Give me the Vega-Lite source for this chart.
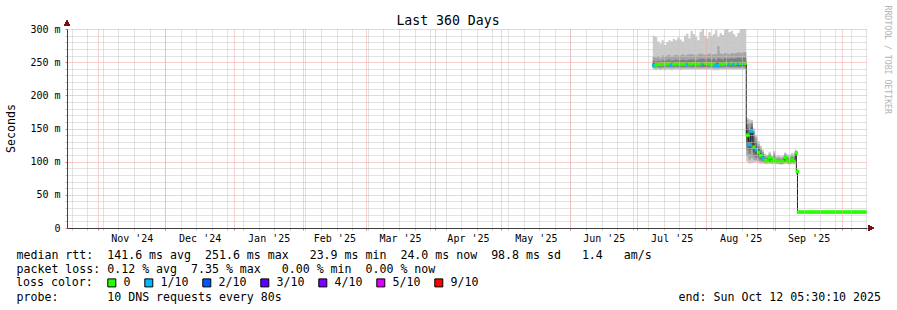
{
  "$schema": "https://vega.github.io/schema/vega-lite/v6.json",
  "width": 800,
  "height": 199,
  "autosize": {"type": "none"},
  "padding": {"left": 67, "top": 29, "right": 30, "bottom": 82},
  "background": "white",
  "title": {"text": "Last 360 Days", "anchor": "middle", "frame": "group", "dx": -19, "dy": 38, "baseline": "alphabetic", "offset": 5, "font": "DejaVu Sans Mono", "fontSize": 13.2, "fontWeight": "normal", "color": "black"},
  "config": {"view": {"stroke": null}, "font": "DejaVu Sans Mono"},
  "data": {"values": [
    {"t":"2025-07-08T00:00","p1":239,"p2":241,"p3":243,"p4":245,"med":245,"p7":249,"p8":252,"p9":258,"p10":290,"loss":"1/10"},
    {"t":"2025-07-09T00:00","p1":238,"p2":241,"p3":243,"p4":244.5,"med":246,"p7":248,"p8":251,"p9":257,"p10":288,"loss":"0"},
    {"t":"2025-07-10T00:00","p1":239,"p2":241,"p3":243,"p4":245,"med":247,"p7":249,"p8":252,"p9":259,"p10":281,"loss":"0"},
    {"t":"2025-07-11T00:00","p1":238,"p2":240,"p3":242.5,"p4":244.5,"med":246.5,"p7":248.5,"p8":251,"p9":256,"p10":278,"loss":"0"},
    {"t":"2025-07-12T00:00","p1":239,"p2":241,"p3":243,"p4":245,"med":247.5,"p7":249.5,"p8":253,"p9":260,"p10":283,"loss":"0"},
    {"t":"2025-07-13T00:00","p1":238,"p2":241,"p3":243,"p4":245,"med":247,"p7":249,"p8":252,"p9":258,"p10":276,"loss":"0"},
    {"t":"2025-07-14T00:00","p1":239,"p2":241,"p3":243.5,"p4":245.5,"med":247.5,"p7":250,"p8":253,"p9":260,"p10":280,"loss":"0"},
    {"t":"2025-07-15T00:00","p1":239,"p2":241,"p3":243,"p4":245,"med":248,"p7":250,"p8":254,"p9":261,"p10":283,"loss":"0"},
    {"t":"2025-07-16T00:00","p1":238,"p2":241,"p3":243,"p4":245,"med":246,"p7":248,"p8":252,"p9":258,"p10":281,"loss":"1/10"},
    {"t":"2025-07-17T00:00","p1":239,"p2":241,"p3":243,"p4":245,"med":247,"p7":249,"p8":253,"p9":260,"p10":285,"loss":"0"},
    {"t":"2025-07-18T00:00","p1":239,"p2":241.5,"p3":243.5,"p4":245.5,"med":248,"p7":250,"p8":254,"p9":261,"p10":283,"loss":"0"},
    {"t":"2025-07-19T00:00","p1":239,"p2":241,"p3":243,"p4":245,"med":247.5,"p7":249.5,"p8":253,"p9":260,"p10":287,"loss":"0"},
    {"t":"2025-07-20T00:00","p1":238,"p2":241,"p3":243,"p4":245,"med":247,"p7":249,"p8":253,"p9":260,"p10":284,"loss":"0"},
    {"t":"2025-07-21T00:00","p1":239,"p2":241,"p3":243,"p4":245,"med":247.5,"p7":250,"p8":254,"p9":262,"p10":281,"loss":"0"},
    {"t":"2025-07-22T00:00","p1":239,"p2":241,"p3":243,"p4":245,"med":247,"p7":249.5,"p8":253,"p9":260,"p10":290,"loss":"0"},
    {"t":"2025-07-23T00:00","p1":239,"p2":241,"p3":243,"p4":245,"med":246.5,"p7":249,"p8":253,"p9":261,"p10":293,"loss":"1/10"},
    {"t":"2025-07-24T00:00","p1":239,"p2":241,"p3":243.5,"p4":245.5,"med":247.5,"p7":250,"p8":254,"p9":262,"p10":286,"loss":"0"},
    {"t":"2025-07-25T00:00","p1":239,"p2":241,"p3":243,"p4":245,"med":247.5,"p7":250,"p8":254,"p9":262,"p10":297,"loss":"0"},
    {"t":"2025-07-26T00:00","p1":239,"p2":241,"p3":243,"p4":245,"med":248,"p7":250,"p8":254,"p9":261,"p10":292,"loss":"0"},
    {"t":"2025-07-27T00:00","p1":239,"p2":241,"p3":243,"p4":245,"med":247,"p7":249.5,"p8":253,"p9":260,"p10":288,"loss":"0"},
    {"t":"2025-07-28T00:00","p1":239,"p2":241,"p3":243.5,"p4":245.5,"med":248,"p7":250,"p8":254,"p9":262,"p10":283,"loss":"0"},
    {"t":"2025-07-29T00:00","p1":239,"p2":241,"p3":243,"p4":245,"med":247.5,"p7":250,"p8":255,"p9":263,"p10":296,"loss":"0"},
    {"t":"2025-07-30T00:00","p1":239,"p2":241,"p3":243,"p4":245,"med":249,"p7":251,"p8":255,"p9":262,"p10":302,"loss":"1/10"},
    {"t":"2025-07-31T00:00","p1":239,"p2":241,"p3":243,"p4":245,"med":248,"p7":250,"p8":254,"p9":261,"p10":290,"loss":"0"},
    {"t":"2025-08-01T00:00","p1":239,"p2":241,"p3":243,"p4":245,"med":247.5,"p7":250,"p8":255,"p9":262,"p10":286,"loss":"0"},
    {"t":"2025-08-02T00:00","p1":239,"p2":241,"p3":243.5,"p4":245.5,"med":248,"p7":250.5,"p8":255,"p9":263,"p10":295,"loss":"0"},
    {"t":"2025-08-03T00:00","p1":239,"p2":241,"p3":243,"p4":245,"med":247,"p7":249.5,"p8":254,"p9":261,"p10":289,"loss":"0"},
    {"t":"2025-08-04T00:00","p1":238,"p2":240.5,"p3":243,"p4":245,"med":247.5,"p7":250,"p8":255,"p9":262,"p10":292,"loss":"0"},
    {"t":"2025-08-05T00:00","p1":238,"p2":240.5,"p3":242.5,"p4":244,"med":245,"p7":248,"p8":253,"p9":262,"p10":298,"loss":"1/10"},
    {"t":"2025-08-06T00:00","p1":238,"p2":240.5,"p3":242.5,"p4":244,"med":245.5,"p7":249,"p8":256,"p9":274,"p10":288,"loss":"1/10"},
    {"t":"2025-08-07T00:00","p1":239,"p2":241,"p3":243,"p4":245,"med":247.5,"p7":250,"p8":255,"p9":263,"p10":294,"loss":"0"},
    {"t":"2025-08-08T00:00","p1":239,"p2":241,"p3":243,"p4":245,"med":247,"p7":249.5,"p8":254,"p9":262,"p10":291,"loss":"0"},
    {"t":"2025-08-09T00:00","p1":239,"p2":241,"p3":243.5,"p4":245.5,"med":248,"p7":250.5,"p8":256,"p9":264,"p10":299,"loss":"0"},
    {"t":"2025-08-10T00:00","p1":239,"p2":241,"p3":243,"p4":245,"med":248,"p7":250.5,"p8":256,"p9":263,"p10":302,"loss":"0"},
    {"t":"2025-08-11T00:00","p1":239,"p2":241,"p3":243,"p4":245,"med":247,"p7":249.5,"p8":255,"p9":262,"p10":295,"loss":"1/10"},
    {"t":"2025-08-12T00:00","p1":239,"p2":241,"p3":243,"p4":245,"med":248.5,"p7":251,"p8":256,"p9":264,"p10":297,"loss":"0"},
    {"t":"2025-08-13T00:00","p1":239,"p2":241,"p3":243,"p4":245,"med":247,"p7":249.5,"p8":255,"p9":263,"p10":292,"loss":"1/10"},
    {"t":"2025-08-14T00:00","p1":239,"p2":241,"p3":243,"p4":245,"med":248,"p7":250.5,"p8":256,"p9":264,"p10":288,"loss":"0"},
    {"t":"2025-08-15T00:00","p1":239,"p2":241,"p3":243,"p4":245,"med":248.5,"p7":251,"p8":257,"p9":265,"p10":294,"loss":"1/10"},
    {"t":"2025-08-16T00:00","p1":239,"p2":241,"p3":243,"p4":245,"med":248,"p7":250.5,"p8":256,"p9":264,"p10":302,"loss":"0"},
    {"t":"2025-08-17T00:00","p1":239,"p2":241,"p3":243,"p4":245,"med":249,"p7":251.5,"p8":257,"p9":265,"p10":300,"loss":"1/10"},
    {"t":"2025-08-18T00:00","p1":239,"p2":241,"p3":243.5,"p4":245.5,"med":248,"p7":251,"p8":257,"p9":265,"p10":302,"loss":"0"},
    {"t":"2025-08-19T00:00","p1":100,"p2":108,"p3":118,"p4":128,"med":140,"p7":150,"p8":156,"p9":162,"p10":166,"loss":"0"},
    {"t":"2025-08-20T00:00","p1":97,"p2":103,"p3":112,"p4":120,"med":126,"p7":136,"p8":148,"p9":158,"p10":164,"loss":"1/10"},
    {"t":"2025-08-21T00:00","p1":98,"p2":106,"p3":118,"p4":132,"med":146,"p7":152,"p8":157,"p9":160,"p10":163,"loss":"1/10"},
    {"t":"2025-08-22T00:00","p1":99,"p2":103,"p3":108,"p4":114,"med":122,"p7":130,"p8":138,"p9":145,"p10":150,"loss":"0"},
    {"t":"2025-08-23T00:00","p1":99,"p2":102,"p3":106,"p4":111,"med":118,"p7":124,"p8":130,"p9":136,"p10":140,"loss":"1/10"},
    {"t":"2025-08-24T00:00","p1":98,"p2":101,"p3":105,"p4":109,"med":114,"p7":119,"p8":123,"p9":127,"p10":131,"loss":"0"},
    {"t":"2025-08-25T00:00","p1":97,"p2":100,"p3":103,"p4":106,"med":109,"p7":113,"p8":117,"p9":121,"p10":124,"loss":"0"},
    {"t":"2025-08-26T00:00","p1":97,"p2":99,"p3":101,"p4":103,"med":105,"p7":108,"p8":111,"p9":115,"p10":118,"loss":"1/10"},
    {"t":"2025-08-27T00:00","p1":96,"p2":98,"p3":99.5,"p4":101,"med":102,"p7":104,"p8":106,"p9":109,"p10":112,"loss":"0"},
    {"t":"2025-08-28T00:00","p1":96,"p2":98,"p3":99,"p4":100,"med":101,"p7":103,"p8":105,"p9":108,"p10":110,"loss":"0"},
    {"t":"2025-08-29T00:00","p1":97,"p2":99,"p3":100,"p4":102,"med":106,"p7":108,"p8":110,"p9":112,"p10":115,"loss":"0"},
    {"t":"2025-08-30T00:00","p1":96,"p2":97.5,"p3":99,"p4":100,"med":100.5,"p7":102,"p8":104,"p9":107,"p10":110,"loss":"0"},
    {"t":"2025-08-31T00:00","p1":97,"p2":99,"p3":101,"p4":103,"med":104,"p7":107,"p8":110,"p9":113,"p10":116,"loss":"0"},
    {"t":"2025-09-01T00:00","p1":96,"p2":97.5,"p3":98.5,"p4":99.5,"med":100,"p7":101.5,"p8":103,"p9":106,"p10":109,"loss":"0"},
    {"t":"2025-09-02T00:00","p1":96,"p2":97.5,"p3":98.5,"p4":99.5,"med":100.5,"p7":102,"p8":104,"p9":107,"p10":110,"loss":"0"},
    {"t":"2025-09-03T00:00","p1":95.5,"p2":97,"p3":98,"p4":99,"med":99.5,"p7":101,"p8":103,"p9":106,"p10":108,"loss":"0"},
    {"t":"2025-09-04T00:00","p1":96,"p2":97,"p3":98,"p4":99,"med":100,"p7":101.5,"p8":103,"p9":106,"p10":109,"loss":"0"},
    {"t":"2025-09-05T00:00","p1":97,"p2":99,"p3":101,"p4":103,"med":106,"p7":108,"p8":110,"p9":112,"p10":114,"loss":"0"},
    {"t":"2025-09-06T00:00","p1":96,"p2":97.5,"p3":99,"p4":100,"med":101,"p7":103,"p8":105,"p9":108,"p10":111,"loss":"0"},
    {"t":"2025-09-07T00:00","p1":95.5,"p2":97,"p3":98,"p4":99,"med":100,"p7":101.5,"p8":103,"p9":106,"p10":110,"loss":"0"},
    {"t":"2025-09-08T00:00","p1":96,"p2":98,"p3":99.5,"p4":101,"med":103,"p7":105,"p8":107,"p9":110,"p10":113,"loss":"0"},
    {"t":"2025-09-09T00:00","p1":96,"p2":97.5,"p3":98.5,"p4":99.5,"med":100.5,"p7":102,"p8":104,"p9":108,"p10":112,"loss":"0"},
    {"t":"2025-09-10T00:00","p1":104,"p2":106,"p3":108,"p4":110,"med":113,"p7":115,"p8":116,"p9":117,"p10":119,"loss":"0"},
    {"t":"2025-09-10T12:00","p1":80,"p2":81,"p3":82,"p4":83.5,"med":85,"p7":86,"p8":87,"p9":88,"p10":90,"loss":"0"},
    {"t":"2025-09-11T00:00","p1":23.5,"p2":23.7,"p3":23.8,"p4":23.9,"med":24,"p7":24.1,"p8":24.2,"p9":24.4,"p10":24.8,"loss":"0"},
    {"t":"2025-09-12T00:00","p1":23.5,"p2":23.7,"p3":23.8,"p4":23.9,"med":24,"p7":24.1,"p8":24.2,"p9":24.4,"p10":24.8,"loss":"0"},
    {"t":"2025-09-13T00:00","p1":23.5,"p2":23.7,"p3":23.8,"p4":23.9,"med":24,"p7":24.1,"p8":24.2,"p9":24.4,"p10":24.8,"loss":"0"},
    {"t":"2025-09-14T00:00","p1":23.5,"p2":23.7,"p3":23.8,"p4":23.9,"med":24,"p7":24.1,"p8":24.2,"p9":24.4,"p10":24.8,"loss":"0"},
    {"t":"2025-09-15T00:00","p1":23.5,"p2":23.7,"p3":23.8,"p4":23.9,"med":24,"p7":24.1,"p8":24.2,"p9":24.4,"p10":24.8,"loss":"0"},
    {"t":"2025-09-16T00:00","p1":23.5,"p2":23.7,"p3":23.8,"p4":23.9,"med":24,"p7":24.1,"p8":24.2,"p9":24.4,"p10":24.8,"loss":"0"},
    {"t":"2025-09-17T00:00","p1":23.5,"p2":23.7,"p3":23.8,"p4":23.9,"med":24,"p7":24.1,"p8":24.2,"p9":24.4,"p10":24.8,"loss":"0"},
    {"t":"2025-09-18T00:00","p1":23.5,"p2":23.7,"p3":23.8,"p4":23.9,"med":24,"p7":24.1,"p8":24.2,"p9":24.4,"p10":24.8,"loss":"0"},
    {"t":"2025-09-19T00:00","p1":23.5,"p2":23.7,"p3":23.8,"p4":23.9,"med":24,"p7":24.1,"p8":24.2,"p9":24.4,"p10":24.8,"loss":"0"},
    {"t":"2025-09-20T00:00","p1":23.5,"p2":23.7,"p3":23.8,"p4":23.9,"med":24,"p7":24.1,"p8":24.2,"p9":24.4,"p10":24.8,"loss":"0"},
    {"t":"2025-09-21T00:00","p1":23.5,"p2":23.7,"p3":23.8,"p4":23.9,"med":24,"p7":24.1,"p8":24.2,"p9":24.4,"p10":24.8,"loss":"0"},
    {"t":"2025-09-22T00:00","p1":23.5,"p2":23.7,"p3":23.8,"p4":23.9,"med":24,"p7":24.1,"p8":24.2,"p9":24.4,"p10":24.8,"loss":"0"},
    {"t":"2025-09-23T00:00","p1":23.5,"p2":23.7,"p3":23.8,"p4":23.9,"med":24,"p7":24.1,"p8":24.2,"p9":24.4,"p10":24.8,"loss":"0"},
    {"t":"2025-09-24T00:00","p1":23.5,"p2":23.7,"p3":23.8,"p4":23.9,"med":24,"p7":24.1,"p8":24.2,"p9":24.4,"p10":24.8,"loss":"0"},
    {"t":"2025-09-25T00:00","p1":23.5,"p2":23.7,"p3":23.8,"p4":23.9,"med":24,"p7":24.1,"p8":24.2,"p9":24.4,"p10":24.8,"loss":"0"},
    {"t":"2025-09-26T00:00","p1":23.5,"p2":23.7,"p3":23.8,"p4":23.9,"med":24,"p7":24.1,"p8":24.2,"p9":24.4,"p10":24.8,"loss":"0"},
    {"t":"2025-09-27T00:00","p1":23.5,"p2":23.7,"p3":23.8,"p4":23.9,"med":24,"p7":24.1,"p8":24.2,"p9":24.4,"p10":24.8,"loss":"0"},
    {"t":"2025-09-28T00:00","p1":23.5,"p2":23.7,"p3":23.8,"p4":23.9,"med":24,"p7":24.1,"p8":24.2,"p9":24.4,"p10":24.8,"loss":"0"},
    {"t":"2025-09-29T00:00","p1":23.5,"p2":23.7,"p3":23.8,"p4":23.9,"med":24,"p7":24.1,"p8":24.2,"p9":24.4,"p10":24.8,"loss":"0"},
    {"t":"2025-09-30T00:00","p1":23.5,"p2":23.7,"p3":23.8,"p4":23.9,"med":24,"p7":24.1,"p8":24.2,"p9":24.4,"p10":24.8,"loss":"0"},
    {"t":"2025-10-01T00:00","p1":23.5,"p2":23.7,"p3":23.8,"p4":23.9,"med":24,"p7":24.1,"p8":24.2,"p9":24.4,"p10":24.8,"loss":"0"},
    {"t":"2025-10-02T00:00","p1":23.5,"p2":23.7,"p3":23.8,"p4":23.9,"med":24,"p7":24.1,"p8":24.2,"p9":24.4,"p10":24.8,"loss":"0"},
    {"t":"2025-10-03T00:00","p1":23.5,"p2":23.7,"p3":23.8,"p4":23.9,"med":24,"p7":24.1,"p8":24.2,"p9":24.4,"p10":24.8,"loss":"0"},
    {"t":"2025-10-04T00:00","p1":23.5,"p2":23.7,"p3":23.8,"p4":23.9,"med":24,"p7":24.1,"p8":24.2,"p9":24.4,"p10":24.8,"loss":"0"},
    {"t":"2025-10-05T00:00","p1":23.5,"p2":23.7,"p3":23.8,"p4":23.9,"med":24,"p7":24.1,"p8":24.2,"p9":24.4,"p10":24.8,"loss":"0"},
    {"t":"2025-10-06T00:00","p1":23.5,"p2":23.7,"p3":23.8,"p4":23.9,"med":24,"p7":24.1,"p8":24.2,"p9":24.4,"p10":24.8,"loss":"0"},
    {"t":"2025-10-07T00:00","p1":23.5,"p2":23.7,"p3":23.8,"p4":23.9,"med":24,"p7":24.1,"p8":24.2,"p9":24.4,"p10":24.8,"loss":"0"},
    {"t":"2025-10-08T00:00","p1":23.5,"p2":23.7,"p3":23.8,"p4":23.9,"med":24,"p7":24.1,"p8":24.2,"p9":24.4,"p10":24.8,"loss":"0"},
    {"t":"2025-10-09T00:00","p1":23.5,"p2":23.7,"p3":23.8,"p4":23.9,"med":24,"p7":24.1,"p8":24.2,"p9":24.4,"p10":24.8,"loss":"0"},
    {"t":"2025-10-10T00:00","p1":23.5,"p2":23.7,"p3":23.8,"p4":23.9,"med":24,"p7":24.1,"p8":24.2,"p9":24.4,"p10":24.8,"loss":"0"},
    {"t":"2025-10-11T00:00","p1":23.5,"p2":23.7,"p3":23.8,"p4":23.9,"med":24,"p7":24.1,"p8":24.2,"p9":24.4,"p10":24.8,"loss":"0"}
  ]},
  "resolve": {"axis": {"x": "independent", "y": "independent"}},
  "layer": [
    {
      "mark": {"type": "area", "interpolate": "step-after", "color": "#cacaca", "opacity": 1, "clip": true},
      "encoding": {
        "x": {"field": "t", "type": "temporal",
          "scale": {"domain": [{"year": 2024, "month": 10, "date": 17, "hours": 22}, {"year": 2025, "month": 10, "date": 12, "hours": 5, "minutes": 30}], "nice": false},
          "axis": {"orient": "bottom", "tickCount": {"interval": "week", "step": 1}, "grid": true, "gridColor": "#c4c4c4", "gridDash": [1, 1], "gridWidth": 1, "labels": false, "ticks": true, "tickSize": 2, "tickColor": "#c4c4c4", "domain": false, "zindex": 1,
            "title": ["median rtt:\u00a0\u00a0141.6 ms avg\u00a0\u00a0251.6 ms max\u00a0\u00a0\u00a023.9 ms min\u00a0\u00a024.0 ms now\u00a0\u00a098.8 ms sd\u00a0\u00a0\u00a01.4\u00a0\u00a0\u00a0am/s", "packet loss: 0.12 % avg\u00a0\u00a07.35 % max\u00a0\u00a0\u00a00.00 % min\u00a0\u00a00.00 % now"],
            "titleFont": "DejaVu Sans Mono", "titleFontSize": 11.6, "titleFontWeight": "normal", "titleColor": "black", "titleAnchor": "start", "titleAlign": "left", "titleBaseline": "alphabetic", "titleX": -51, "titleY": 30, "titleLineHeight": 14}},
        "y": {"field": "p1", "type": "quantitative", "scale": {"domain": [0, 300], "nice": false, "zero": true},
          "axis": {"orient": "left", "values": [10, 20, 30, 40, 60, 70, 80, 90, 110, 120, 130, 140, 160, 170, 180, 190, 210, 220, 230, 240, 260, 270, 280, 290], "grid": true, "gridColor": "#c4c4c4", "gridDash": [1, 1], "labels": false, "ticks": true, "tickSize": 2, "tickColor": "#c4c4c4", "domain": false, "title": null, "zindex": 1}},
        "y2": {"field": "p10"}
      }
    },
    {
      "mark": {"type": "area", "interpolate": "step-after", "color": "#a4a4a4", "opacity": 1, "clip": true},
      "encoding": {
        "x": {"field": "t", "type": "temporal",
          "axis": {"orient": "bottom", "tickCount": {"interval": "month", "step": 1}, "grid": true, "gridColor": "#f2a0a0", "gridDash": [1, 1], "labels": false, "ticks": true, "tickSize": 2, "tickColor": "#e87070", "domain": false, "zindex": 1,
            "title": "end: Sun Oct 12 05:30:10 2025", "titleFont": "DejaVu Sans Mono", "titleFontSize": 11.6, "titleFontWeight": "normal", "titleColor": "black", "titleAnchor": "start", "titleAlign": "right", "titleBaseline": "alphabetic", "titleX": 813.5, "titleY": 72}},
        "y": {"field": "p2", "type": "quantitative",
          "axis": {"orient": "left", "values": [0, 50, 100, 150, 200, 250, 300], "grid": true, "gridColor": "#f2a0a0", "gridDash": [1, 1], "ticks": true, "tickSize": 2, "tickColor": "#e87070", "domain": true, "domainColor": "#404040", "zindex": 1,
            "labelExpr": "datum.value == 0 ? '0' : datum.value + ' m'", "labelFont": "DejaVu Sans Mono", "labelFontSize": 10, "labelColor": "black", "labelPadding": 5, "labelFlush": false, "labelOverlap": false, "labelBound": false,
            "encode": {"labels": {"update": {"dx": {"signal": "datum.value == 0 ? -12 : 0"}}}},
            "title": "Seconds", "titleFont": "DejaVu Sans Mono", "titleFontSize": 11.6, "titleFontWeight": "normal", "titleColor": "black", "titleX": -56, "titleY": 99, "titleBaseline": "middle", "titleAngle": -90}},
        "y2": {"field": "p9"}
      }
    },
    {
      "mark": {"type": "area", "interpolate": "step-after", "color": "#7e7e7e", "opacity": 1, "clip": true},
      "encoding": {
        "x": {"field": "t", "type": "temporal",
          "axis": {"orient": "bottom", "values": [{"year": 2024, "month": 11, "date": 16}, {"year": 2024, "month": 12, "date": 16, "hours": 12}, {"year": 2025, "month": 1, "date": 16, "hours": 12}, {"year": 2025, "month": 2, "date": 15}, {"year": 2025, "month": 3, "date": 16, "hours": 12}, {"year": 2025, "month": 4, "date": 16}, {"year": 2025, "month": 5, "date": 16, "hours": 12}, {"year": 2025, "month": 6, "date": 16}, {"year": 2025, "month": 7, "date": 16, "hours": 12}, {"year": 2025, "month": 8, "date": 16, "hours": 12}, {"year": 2025, "month": 9, "date": 16}],
            "format": "%b '%y", "labelFont": "DejaVu Sans Mono", "labelFontSize": 10, "labelColor": "black", "labelBaseline": "alphabetic", "labelPadding": 13, "labelAlign": "center", "labelFlush": false, "labelOverlap": false, "labelBound": false,
            "ticks": false, "grid": false, "domain": true, "domainColor": "#404040", "zindex": 1,
            "title": "probe:\u00a0\u00a0\u00a0\u00a0\u00a0\u00a0\u00a010 DNS requests every 80s", "titleFont": "DejaVu Sans Mono", "titleFontSize": 11.6, "titleFontWeight": "normal", "titleColor": "black", "titleAnchor": "start", "titleAlign": "left", "titleBaseline": "alphabetic", "titleX": -51, "titleY": 72}},
        "y": {"field": "p3", "type": "quantitative", "axis": null},
        "y2": {"field": "p8"}
      }
    },
    {
      "mark": {"type": "area", "interpolate": "step-after", "color": "#585858", "opacity": 1, "clip": true},
      "encoding": {
        "x": {"field": "t", "type": "temporal", "axis": null},
        "y": {"field": "p4", "type": "quantitative",
          "axis": {"orient": "right", "labels": false, "ticks": false, "grid": false, "domain": false, "title": "RRDTOOL / TOBI OETIKER", "titleAngle": 90, "titleFont": "DejaVu Sans Mono", "titleFontSize": 8.2, "titleFontWeight": "normal", "titleColor": "#b4b4b4", "titleAlign": "left", "titleBaseline": "middle", "titleX": 19, "titleY": -24, "zindex": 1}},
        "y2": {"field": "p7"}
      }
    },
    {
      "mark": {"type": "line", "interpolate": "step-after", "color": "#202020", "strokeWidth": 1, "clip": true},
      "encoding": {
        "x": {"field": "t", "type": "temporal", "axis": null},
        "y": {"field": "med", "type": "quantitative", "axis": null}
      }
    },
    {
      "mark": {"type": "point", "shape": "square", "filled": true, "size": 12, "opacity": 1, "xOffset": 1.1, "clip": true},
      "encoding": {
        "x": {"field": "t", "type": "temporal", "axis": null},
        "y": {"field": "med", "type": "quantitative", "axis": null},
        "color": {"field": "loss", "type": "nominal",
          "scale": {"domain": ["0", "1/10", "2/10", "3/10", "4/10", "5/10", "9/10"], "range": ["#26ff00", "#00b8ff", "#0059ff", "#5e00ff", "#7e00ff", "#dd00ff", "#ff0000"]},
          "legend": {"orient": "none", "legendX": -51, "legendY": 248, "direction": "horizontal", "title": "loss color:", "titleOrient": "left", "titleFont": "DejaVu Sans Mono", "titleFontSize": 11.6, "titleFontWeight": "normal", "titleColor": "black", "titlePadding": 13,
            "labelFont": "DejaVu Sans Mono", "labelFontSize": 11.6, "labelColor": "black", "labelOffset": 6, "columnPadding": 11, "padding": 0, "symbolType": "square", "symbolSize": 64, "symbolStrokeColor": "black", "symbolStrokeWidth": 1,
            "encode": {"symbols": {"update": {"stroke": {"value": "black"}, "strokeWidth": {"value": 1}, "size": {"value": 64}, "opacity": {"value": 1}}}}}}
      }
    },
    {
      "mark": {"type": "point", "shape": "triangle-right", "filled": true, "color": "#7a1010", "size": 28, "opacity": 1, "clip": false},
      "encoding": {
        "x": {"datum": {"year": 2025, "month": 10, "date": 14}, "type": "temporal", "axis": null},
        "y": {"datum": 0, "type": "quantitative", "axis": null}
      }
    },
    {
      "mark": {"type": "point", "shape": "triangle-up", "filled": true, "color": "#7a1010", "size": 28, "opacity": 1, "clip": false},
      "encoding": {
        "x": {"datum": {"year": 2024, "month": 10, "date": 17, "hours": 22}, "type": "temporal", "axis": null},
        "y": {"datum": 309, "type": "quantitative", "axis": null}
      }
    }
  ]
}
